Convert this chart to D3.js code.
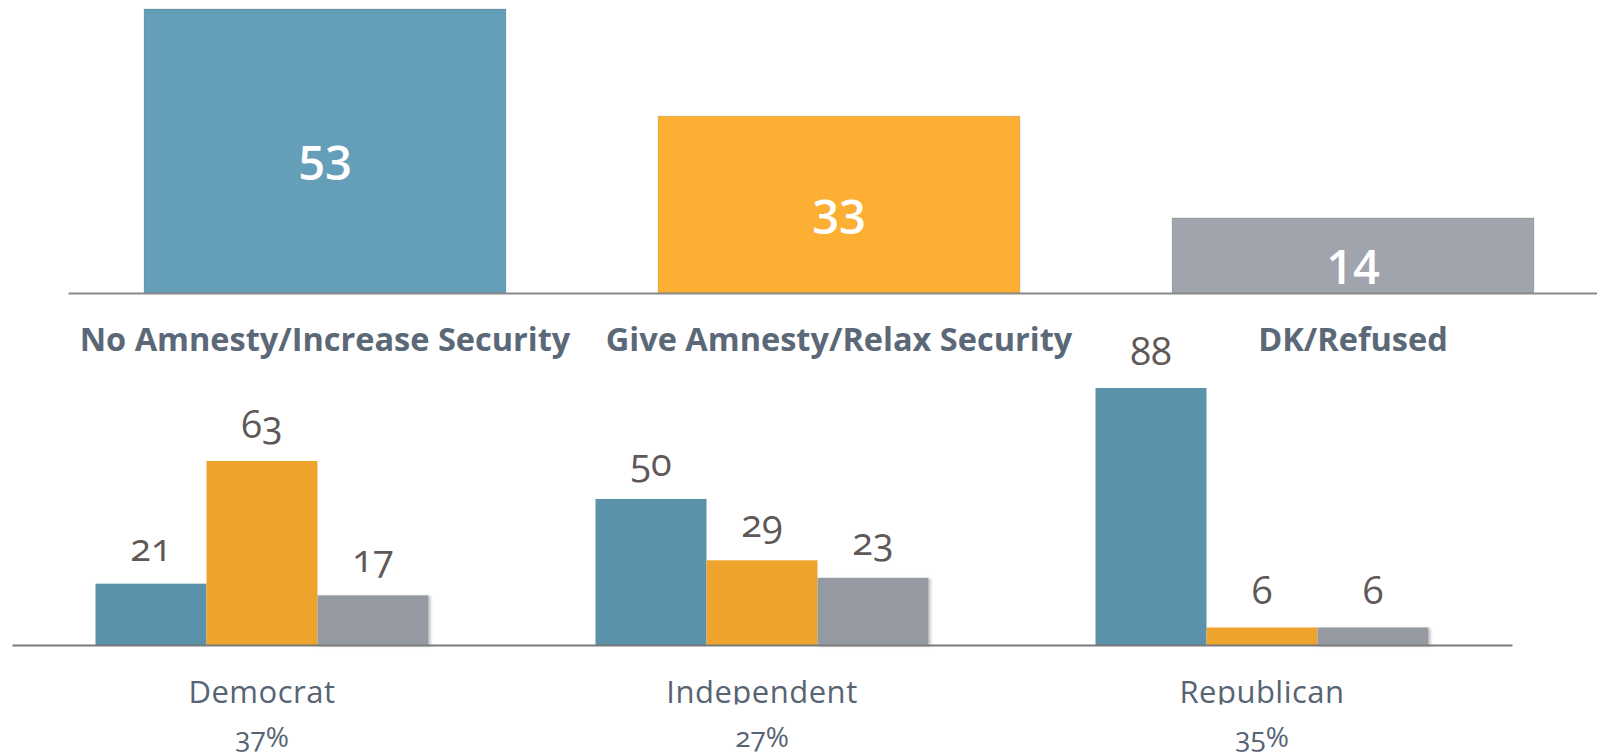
<!DOCTYPE html>
<html>
<head>
<meta charset="utf-8">
<script src="https://cdnjs.cloudflare.com/ajax/libs/d3/7.8.5/d3.min.js"></script>
<style>
  html, body { margin: 0; padding: 0; background: #fff; }
  svg { display: block; font-family: "Open Sans", "Noto Sans", sans-serif; }
  .axis path { stroke-width: 2; }
  .onum { font-variant-numeric: oldstyle-nums; font-feature-settings: "onum" 1; }
</style>
</head>
<body>
<div id="chart"></div>
<script>
// Overall answers
var answers = ["No Amnesty/Increase Security", "Give Amnesty/Relax Security", "DK/Refused"];
var overall = [53, 33, 14];

// By party
var parties = ["Democrat", "Independent", "Republican"];
var partyShare = ["37%", "27%", "35%"];
var noAmnesty = [21, 50, 88];
var giveAmnesty = [63, 29, 6];
var dkRefused = [17, 23, 6];

var topColors = ["#649eb8", "#fdaf33", "#a0a4ac"];
var botColors = ["#5b91a9", "#eea32c", "#959aa2"];

var width = 1597, height = 756;

var svg = d3.select("#chart").append("svg")
	.attr("width", width)
	.attr("height", height);

var defs = svg.append("defs");
defs.append("filter").attr("id", "shadow")
	.attr("x", "-10%").attr("y", "-10%").attr("width", "130%").attr("height", "130%")
	.append("feDropShadow")
	.attr("dx", 2).attr("dy", 1).attr("stdDeviation", 1.5)
	.attr("flood-color", "#000").attr("flood-opacity", 0.25);
defs.append("clipPath").attr("id", "labelClip")
	.append("rect").attr("x", 0).attr("y", 0).attr("width", width).attr("height", 704.5);

// ---- Top chart: overall ----
var topBase = 293;
var xTop = d3.scaleBand().domain(answers).range([68, 1610])
	.paddingInner(0.296).paddingOuter(0.148);
var yTop = d3.scaleLinear().domain([0, d3.max(overall)]).range([topBase, 9]);

var topData = answers.map(function(a, i) { return {key: a, value: overall[i], i: i}; });

svg.append("g").selectAll("rect")
	.data(topData)
	.enter().append("rect")
	.attr("x", function(d) { return xTop(d.key); })
	.attr("y", function(d) { return yTop(d.value); })
	.attr("width", xTop.bandwidth())
	.attr("height", function(d) { return topBase - yTop(d.value); })
	.attr("fill", function(d) { return topColors[d.i]; })
	.attr("stroke", "rgba(0,0,0,0.12)")
	.attr("stroke-width", 1);

svg.append("g").selectAll("text")
	.data(topData)
	.enter().append("text")
	.attr("x", function(d) { return xTop(d.key) + xTop.bandwidth() / 2; })
	.attr("y", function(d) { return (yTop(d.value) + topBase) / 2 + 29; })
	.attr("text-anchor", "middle")
	.attr("fill", "#fff")
	.style("font-size", "47px")
	.style("font-weight", 600)
	.text(function(d) { return d.value; });

// axis with category labels
var axTop = svg.append("g")
	.attr("class", "axis")
	.attr("transform", "translate(0," + topBase + ")")
	.call(d3.axisBottom(xTop).tickSize(0).tickPadding(0));
axTop.select(".domain").attr("stroke", "#8a8a8a");
axTop.selectAll(".tick text")
	.attr("y", 58)
	.attr("dy", 0)
	.attr("fill", "#5b6877")
	.style("font-family", "'Open Sans', sans-serif")
	.style("font-size", "32.5px")
	.style("font-weight", 700);

// ---- Bottom chart: by party ----
var botBase = 645;
var x0 = d3.scaleBand().domain(parties).range([12, 1512])
	.paddingInner(0.334).paddingOuter(0.167);
var x1 = d3.scaleBand().domain(answers).range([0, x0.bandwidth()]).padding(0);
var yBot = d3.scaleLinear().domain([0, d3.max(noAmnesty)]).range([botBase, 388]);

var series = [noAmnesty, giveAmnesty, dkRefused];
var groupData = parties.map(function(p, j) {
	return {party: p, share: partyShare[j], values: answers.map(function(a, i) {
		return {key: a, value: series[i][j], i: i};
	})};
});

var group = svg.append("g").selectAll("g")
	.data(groupData)
	.enter().append("g")
	.attr("transform", function(d) { return "translate(" + x0(d.party) + ",0)"; });

group.selectAll("rect")
	.data(function(d) { return d.values; })
	.enter().append("rect")
	.attr("x", function(d) { return x1(d.key); })
	.attr("y", function(d) { return yBot(d.value); })
	.attr("width", x1.bandwidth())
	.attr("height", function(d) { return botBase - yBot(d.value); })
	.attr("fill", function(d) { return botColors[d.i]; })
	.attr("filter", function(d) { return d.i === 2 ? "url(#shadow)" : null; });

group.selectAll("text.val")
	.data(function(d) { return d.values; })
	.enter().append("text")
	.attr("class", "val onum")
	.attr("x", function(d) { return x1(d.key) + x1.bandwidth() / 2; })
	.attr("y", function(d) { return yBot(d.value) - 23; })
	.attr("text-anchor", "middle")
	.attr("fill", "#5f5858")
	.style("font-size", "38px")
	.text(function(d) { return d.value; });

var axBot = svg.append("g")
	.attr("class", "axis")
	.attr("transform", "translate(0," + botBase + ")")
	.call(d3.axisBottom(x0).tickSize(0).tickFormat(""));
axBot.select(".domain").attr("stroke", "#7a7a7a").attr("stroke-width", 1.5);

// party labels (descenders cut like the original)
svg.append("g").attr("clip-path", "url(#labelClip)")
	.selectAll("text")
	.data(groupData)
	.enter().append("text")
	.attr("x", function(d) { return x0(d.party) + x0.bandwidth() / 2; })
	.attr("y", 703)
	.attr("text-anchor", "middle")
	.attr("fill", "#566473")
	.style("font-size", "31px")
	.style("letter-spacing", "0.5px")
	.text(function(d) { return d.party; });

svg.append("g").selectAll("text")
	.data(groupData)
	.enter().append("text")
	.attr("class", "onum")
	.attr("x", function(d) { return x0(d.party) + x0.bandwidth() / 2; })
	.attr("y", 747)
	.attr("text-anchor", "middle")
	.attr("fill", "#566473")
	.style("font-size", "28px")
	.text(function(d) { return d.share; });
</script>
</body>
</html>
